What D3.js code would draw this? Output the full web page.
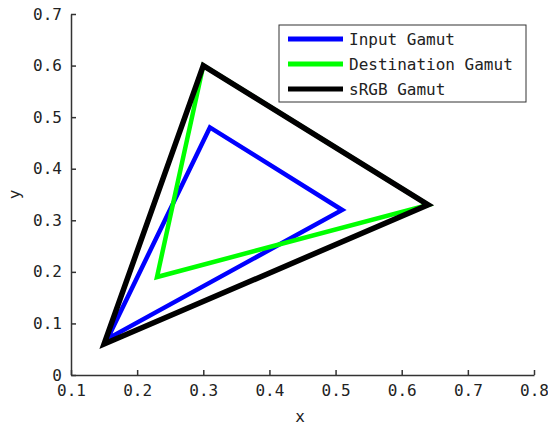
<!DOCTYPE html>
<html>
<head>
<meta charset="utf-8">
<script src="https://cdn.jsdelivr.net/npm/d3@7"></script>
<style>
  body { margin: 0; background: white; }
  text { font-family: "DejaVu Sans Mono", monospace; font-size: 16px; fill: #222; }
</style>
</head>
<body>
<script>
// gamut triangles, chromaticity (x, y) of the R, G, B primaries
const seriesNames = ["Input Gamut", "Destination Gamut", "sRGB Gamut"]
const seriesColors = ["#0000ff", "#00ff00", "#000000"]
const inputGamut = [[0.51, 0.32], [0.31, 0.48], [0.155, 0.07]]
const destGamut = [[0.64, 0.33], [0.30, 0.60], [0.23, 0.19]]
const srgbGamut = [[0.64, 0.33], [0.30, 0.60], [0.15, 0.06]]
const xTicks = [0.1, 0.2, 0.3, 0.4, 0.5, 0.6, 0.7, 0.8]
const yTicks = [0, 0.1, 0.2, 0.3, 0.4, 0.5, 0.6, 0.7]

class GamutPlot{

    constructor(){
        this.width = 548
        this.height = 425
        this.left = 71
        this.right = 534
        this.top = 14
        this.bottom = 375
        this.axis_color = "#333"
        this.tick_len = 5
        this.line_widths = [4.5, 4.5, 5.5]
    }

    render(){
        const svg = d3.select("body").append("svg")
            .attr("width", this.width)
            .attr("height", this.height)

        const x = d3.scaleLinear().domain([0.1, 0.8]).range([this.left, this.right])
        const y = d3.scaleLinear().domain([0, 0.7]).range([this.bottom, this.top])

        // triangles, drawn in legend order so sRGB ends up on top
        const gamuts = [inputGamut, destGamut, srgbGamut]
        const line = d3.line().x(d => x(d[0])).y(d => y(d[1])).curve(d3.curveLinearClosed)
        gamuts.forEach((g, i) => {
            svg.append("path")
                .attr("d", line(g))
                .attr("fill", "none")
                .attr("stroke", seriesColors[i])
                .attr("stroke-width", this.line_widths[i])
                .attr("stroke-linejoin", "miter")
        })

        // axes - ticks point inwards like matlab
        const fmt = d => d === 0 ? "0" : d3.format(".1f")(d)
        const xAxis = svg.append("g")
            .attr("transform", `translate(0,${this.bottom})`)
            .call(d3.axisBottom(x).tickValues(xTicks).tickFormat(fmt).tickSizeInner(-this.tick_len).tickSizeOuter(0).tickPadding(10))
        const yAxis = svg.append("g")
            .attr("transform", `translate(${this.left},0)`)
            .call(d3.axisLeft(y).tickValues(yTicks).tickFormat(fmt).tickSizeInner(-this.tick_len).tickSizeOuter(0).tickPadding(9))
        for (const ax of [xAxis, yAxis]){
            ax.select(".domain").attr("stroke", this.axis_color).attr("stroke-width", 1.5)
            ax.selectAll(".tick line").attr("stroke", this.axis_color).attr("stroke-width", 1.5)
            ax.selectAll("text").attr("font-family", null).attr("font-size", null).attr("fill", "#222")
        }

        svg.append("text").text("x")
            .attr("x", 300).attr("y", 422)
            .attr("text-anchor", "middle")
        svg.append("text").text("y")
            .attr("transform", `translate(20,${(this.top + this.bottom) / 2}) rotate(-90)`)
            .attr("text-anchor", "middle")

        // legend
        const lg = svg.append("g").attr("transform", "translate(279,25)")
        lg.append("rect")
            .attr("width", 247).attr("height", 77)
            .attr("fill", "white").attr("stroke", "#333").attr("stroke-width", 1)
        seriesNames.forEach((name, i) => {
            const ly = 14 + i * 25
            lg.append("line")
                .attr("x1", 9).attr("x2", 64)
                .attr("y1", ly).attr("y2", ly)
                .attr("stroke", seriesColors[i])
                .attr("stroke-width", 5)
            lg.append("text").text(name)
                .attr("x", 70).attr("y", ly + 6)
        })
    }
}

new GamutPlot().render()
</script>
</body>
</html>
